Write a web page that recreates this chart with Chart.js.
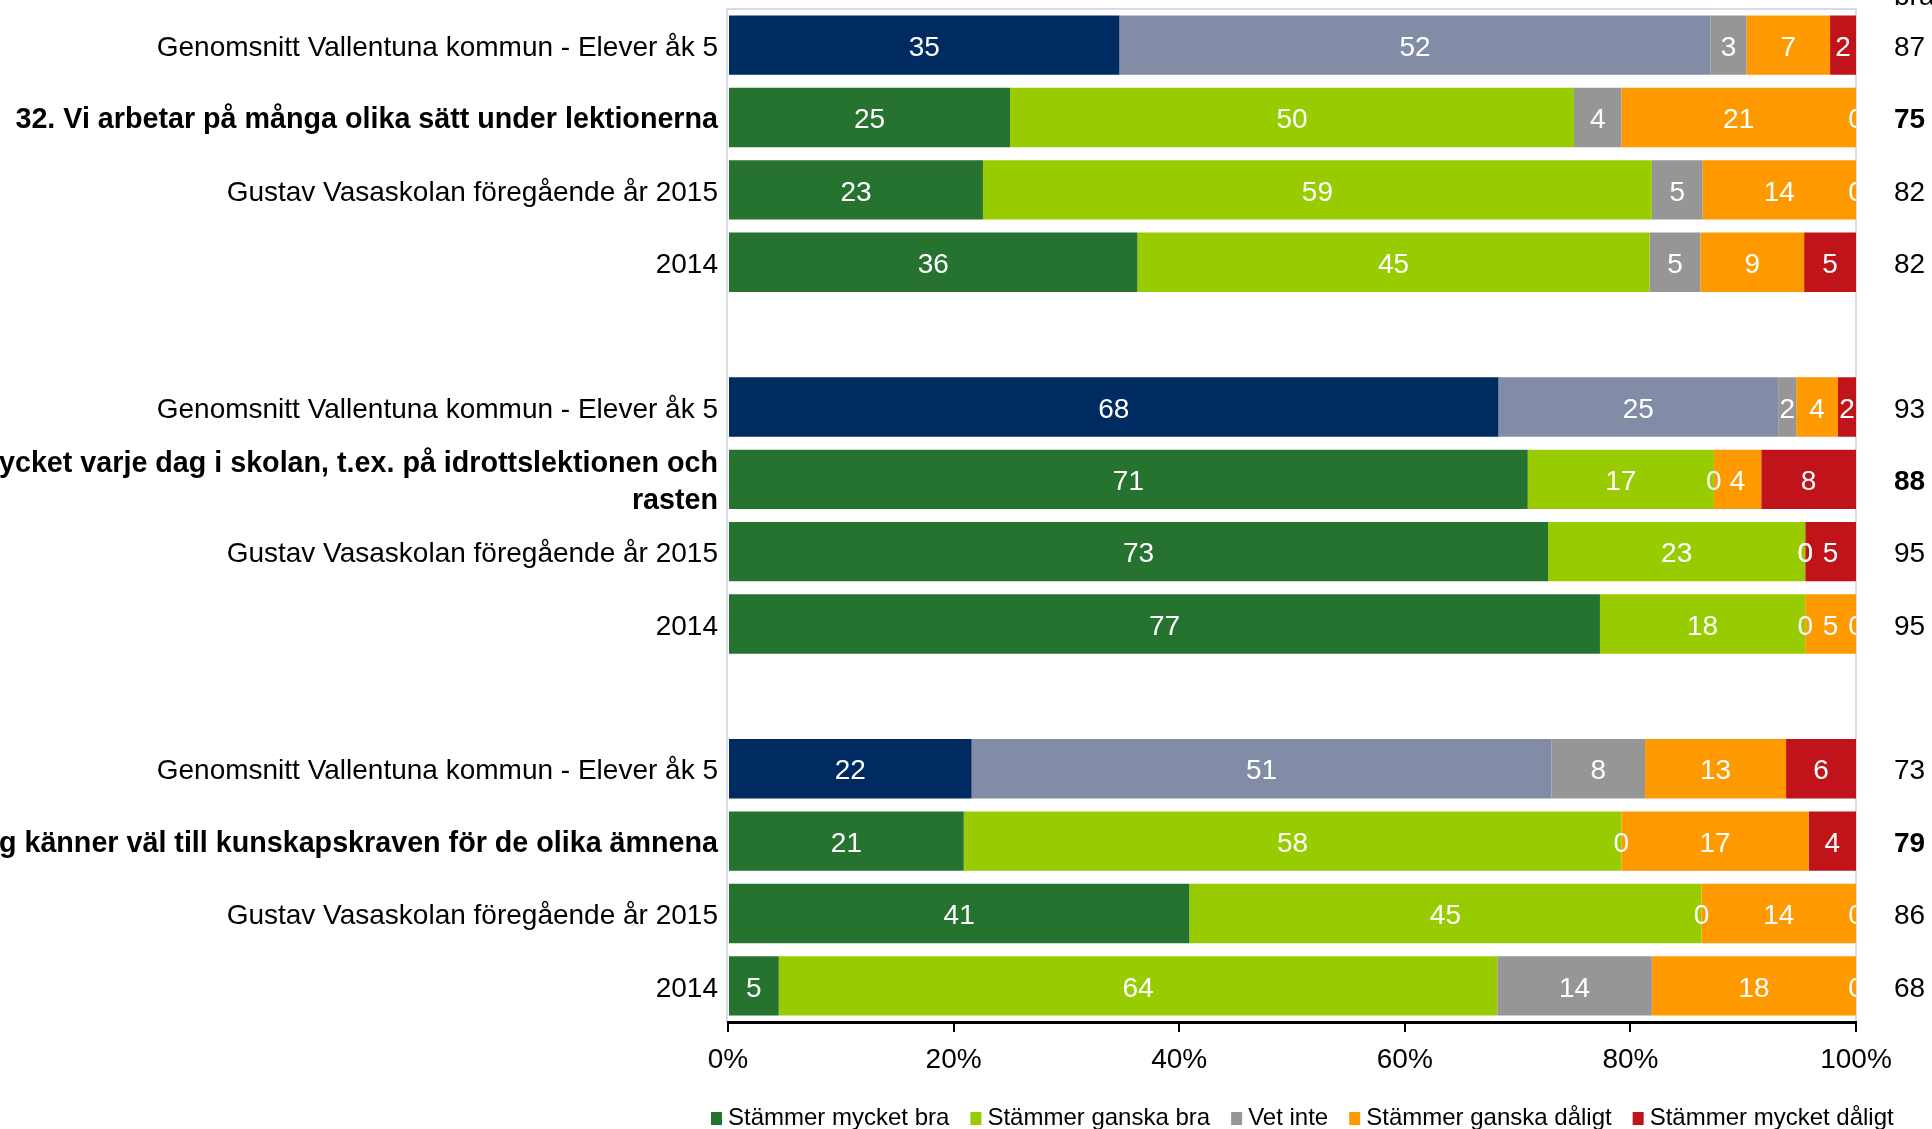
<!DOCTYPE html>
<html lang="sv">
<head>
<meta charset="utf-8">
<title>Elevenkät åk 5</title>
<script src="https://cdn.jsdelivr.net/npm/chart.js@4.4.1/dist/chart.umd.min.js"></script>
<style>
  html, body { margin: 0; padding: 0; background: #fff; }
  canvas { display: block; }
</style>
</head>
<body>
<canvas id="chart" width="1932" height="1129"></canvas>
<script>
// rader uppifrån och ned, tomma rader skiljer frågorna åt
const kategorier = [
    'Genomsnitt Vallentuna kommun - Elever åk 5',
    '32. Vi arbetar på många olika sätt under lektionerna',
    'Gustav Vasaskolan föregående år 2015',
    '2014',
    '',
    'Genomsnitt Vallentuna kommun - Elever åk 5',
    ['mycket varje dag i skolan, t.ex. på idrottslektionen och', 'rasten'],
    'Gustav Vasaskolan föregående år 2015',
    '2014',
    '',
    'Genomsnitt Vallentuna kommun - Elever åk 5',
    'Jag känner väl till kunskapskraven för de olika ämnena',
    'Gustav Vasaskolan föregående år 2015',
    '2014'
];
const fetstilRader = [1, 6, 11];
const kommunRader = [0, 5, 10];

const stammerMycketBra    = [34.7, 25.0, 22.6, 36.3, null, 68.3, 70.9, 72.7, 77.3, null, 21.6, 20.9, 40.9, 4.5];
const stammerGanskaBra    = [52.4, 50.0, 59.3, 45.4, null, 24.8, 16.5, 22.8, 18.2, null, 51.4, 58.3, 45.4, 63.7];
const vetInte             = [3.2, 4.2, 4.5, 4.5, null, 1.6, 0, 0, 0, null, 8.3, 0, 0, 13.7];
const stammerGanskaDaligt = [7.4, 20.8, 13.6, 9.2, null, 3.7, 4.2, 0, 4.5, null, 12.5, 16.6, 13.7, 18.1];
const stammerMycketDaligt = [2.3, 0, 0, 4.6, null, 1.6, 8.4, 4.5, 0, null, 6.2, 4.2, 0, 0];

const andelBra = ['87', '75', '82', '82', '', '93', '88', '95', '95', '', '73', '79', '86', '68'];
const xTicks = [0, 20, 40, 60, 80, 100];

const serieNamn = ['Stämmer mycket bra', 'Stämmer ganska bra', 'Vet inte', 'Stämmer ganska dåligt', 'Stämmer mycket dåligt'];
const serieData = [stammerMycketBra, stammerGanskaBra, vetInte, stammerGanskaDaligt, stammerMycketDaligt];
const farger = ['#267330', '#99CC00', '#969696', '#FF9900', '#C0141A'];
const kommunFarger = ['#002B61', '#828CA6'];

const FONT = '"Liberation Sans", Arial, sans-serif';
Chart.defaults.font.family = FONT;
Chart.defaults.color = '#000';

const plotRam = {
    id: 'plotRam',
    beforeDraw(chart) {
        const { ctx, chartArea: a } = chart;
        ctx.save();
        ctx.strokeStyle = '#D9DCE6';
        ctx.lineWidth = 2;
        ctx.strokeRect(a.left - 1, a.top, a.right - a.left + 1, a.bottom - a.top);
        ctx.restore();
    }
};

const stapelEtiketter = {
    id: 'stapelEtiketter',
    afterDatasetsDraw(chart) {
        const { ctx, chartArea: a } = chart;
        ctx.save();
        ctx.beginPath();
        ctx.rect(a.left, a.top, a.right - a.left, a.bottom - a.top);
        ctx.clip();
        ctx.font = '28px ' + FONT;
        ctx.fillStyle = '#fff';
        ctx.textAlign = 'center';
        ctx.textBaseline = 'middle';
        chart.data.datasets.forEach((ds, di) => {
            chart.getDatasetMeta(di).data.forEach((el, i) => {
                const v = ds.data[i];
                if (v === null || v === undefined) return;
                const p = el.getProps(['x', 'base', 'y'], true);
                ctx.fillText(String(Math.round(v)), (p.x + p.base) / 2, p.y + 3);
            });
        });
        ctx.restore();
    }
};

const forklaring = {
    id: 'forklaring',
    afterDraw(chart) {
        const { ctx, chartArea: a } = chart;
        ctx.save();
        ctx.font = '24px ' + FONT;
        ctx.textBaseline = 'middle';
        ctx.textAlign = 'left';
        let x = a.left - 17;
        const y = 1118;
        serieNamn.forEach((namn, i) => {
            ctx.fillStyle = farger[i];
            ctx.fillRect(x, y - 6, 11, 13);
            ctx.fillStyle = '#000';
            ctx.fillText(namn, x + 17, y);
            x += 17 + ctx.measureText(namn).width + 21;
        });
        // rubriken ovanför högerkolumnen är nästan helt avskuren
        ctx.font = '28px ' + FONT;
        ctx.textBaseline = 'alphabetic';
        ctx.fillText('bra', a.right + 38, 5);
        ctx.restore();
    }
};

new Chart(document.getElementById('chart').getContext('2d'), {
    type: 'bar',
    data: {
        labels: kategorier,
        datasets: serieData.map((data, di) => ({
            label: serieNamn[di],
            data: data,
            backgroundColor: kategorier.map((_, i) =>
                di < 2 && kommunRader.includes(i) ? kommunFarger[di] : farger[di]),
            borderWidth: 0,
            barPercentage: 1,
            categoryPercentage: 0.82
        }))
    },
    options: {
        indexAxis: 'y',
        responsive: false,
        animation: false,
        devicePixelRatio: 1,
        layout: { padding: { top: 9, left: 0, right: 0, bottom: 0 } },
        plugins: {
            legend: { display: false },
            tooltip: { enabled: false }
        },
        scales: {
            x: {
                stacked: true,
                min: 0,
                max: 100,
                afterBuildTicks: s => { s.ticks = xTicks.map(v => ({ value: v })); },
                grid: { drawOnChartArea: false, drawTicks: true, tickLength: 10, color: '#000', lineWidth: 2 },
                border: { color: '#000', width: 3 },
                ticks: {
                    padding: 11,
                    color: '#000',
                    font: { size: 28 },
                    maxRotation: 0,
                    callback: v => v + '%'
                },
                afterFit: s => { s.height = 107; s.paddingLeft = 0; s.paddingRight = 0; }
            },
            y: {
                stacked: true,
                grid: { display: false, drawTicks: false },
                border: { display: false },
                ticks: {
                    autoSkip: false,
                    padding: 10,
                    labelOffset: 3,
                    color: '#000',
                    font: c => fetstilRader.includes(c.index)
                        ? { size: 28.7, lineHeight: 1.29, weight: 'bold' }
                        : { size: 28, lineHeight: 1.32, weight: 'normal' }
                },
                afterFit: s => { s.width = 728; s.paddingTop = 0; s.paddingBottom = 0; }
            },
            y2: {
                type: 'category',
                position: 'right',
                labels: andelBra,
                offset: true,
                grid: { display: false, drawTicks: false },
                border: { display: false },
                ticks: {
                    autoSkip: false,
                    padding: 38,
                    labelOffset: 3,
                    color: '#000',
                    font: c => ({ size: 28, weight: fetstilRader.includes(c.index) ? 'bold' : 'normal' })
                },
                afterFit: s => { s.width = 76; s.paddingTop = 0; s.paddingBottom = 0; }
            }
        }
    },
    plugins: [plotRam, stapelEtiketter, forklaring]
});
</script>
</body>
</html>
